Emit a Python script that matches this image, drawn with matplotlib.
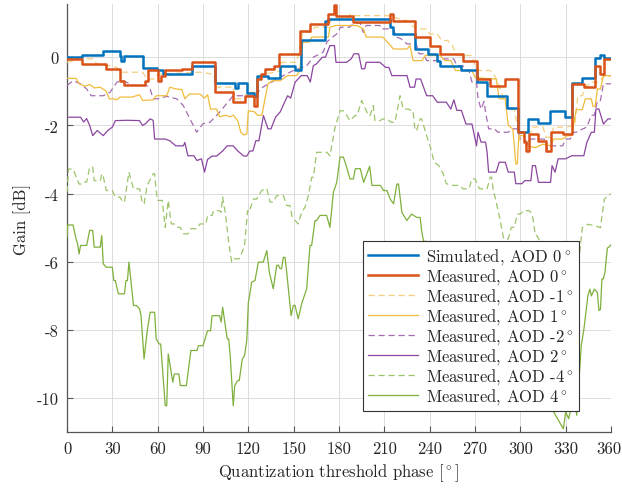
import matplotlib
matplotlib.use("Agg")
import matplotlib.pyplot as plt
import matplotlib.transforms as mtransforms

plt.rcParams['font.family'] = 'cmr10'
plt.rcParams['mathtext.fontset'] = 'cm'
plt.rcParams['axes.formatter.use_mathtext'] = True
plt.rcParams['font.size'] = 12

# ---------------- data ----------------
sim0_x = [0, 10, 24, 35, 36, 38, 50.5, 59.3, 63.7, 82.5, 98, 111, 113, 119, 124, 126, 133, 141, 151, 155,
          171, 173, 214, 216, 230, 239, 245, 247, 261, 271, 278, 291, 298.5, 305.3, 312, 319.7, 329.6, 334,
          340.6, 349.4, 352.7, 355.5, 360]
sim0_y = [0.0, 0.05, 0.17, 0.03, -0.12, 0.03, -0.31, -0.37, -0.49, -0.27, -0.76, -0.9, -0.76, -1.06, -1.15,
          -0.56, -0.62, -0.25, -0.39, 0.49, 1.07, 1.12, 0.88, 0.68, 0.24, 0.1, -0.1, -0.25, -0.39, -0.73,
          -1.13, -1.5, -2.2, -1.81, -1.93, -1.57, -1.76, -0.75, -0.61, -0.03, 0.07, -0.01, -0.01]

meas0_x = [0, 10, 26, 35, 38, 51.6, 53.5, 60, 62, 65, 76, 82.5, 98, 110, 117.5, 123.5, 125.5, 128.5, 131,
           137, 140.5, 154, 161, 173, 176.5, 178, 189.5, 214, 216, 230, 240, 247, 262, 271, 280, 290,
           298.5, 302.5, 303.5, 306, 312, 317, 320, 328, 334.5, 342, 349.4, 352.5, 355.5, 357.5, 360]
meas0_y = [-0.05, -0.2, -0.34, -0.69, -0.83, -0.69, -0.39, -0.69, -0.56, -0.39, -0.34, -0.15, -1.03, -1.32,
           -1.13, -1.42, -0.64, -0.5, -0.34, -0.25, 0.1, 0.78, 0.98, 1.27, 1.53, 1.22, 1.03, 1.27, 1.07,
           0.59, 0.34, 0.1, -0.1, -0.64, -0.85, -0.64, -2.2, -2.49, -2.74, -2.25, -2.45, -2.74, -2.2,
           -2.25, -0.78, -0.88, -0.25, -0.49, -0.05, -0.05, -0.05]

m_neg1_x = [0, 5, 10, 17, 20, 28, 33, 36, 50, 53, 58, 60, 65, 88, 97, 99, 110, 111, 118, 119, 125, 127,
            131, 141, 142, 152, 154, 156, 162, 164, 173, 175, 185, 188, 190, 212, 225, 231, 238, 240, 245,
            248, 252, 255, 258, 268, 270, 273, 280, 283, 286, 289, 292, 296, 298, 300, 305, 308, 315, 317,
            320, 322, 330, 336, 338, 341, 343, 347, 352, 355, 360]
m_neg1_y = [-0.15, -0.1, -0.05, -0.05, -0.2, -0.25, -0.3, -0.44, -0.44, -0.64, -0.64, -0.5, -0.49, -0.44,
            -0.5, -0.88, -0.88, -1.22, -1.22, -1.03, -1.03, -0.64, -0.5, -0.4, -0.15, -0.15, 0.24, 0.73,
            0.73, 0.88, 0.88, 1.12, 1.12, 1.27, 1.22, 1.22, 1.07, 0.83, 0.83, 0.68, 0.68, 0.49, 0.49, 0.34,
            0.05, 0.05, -0.25, -0.39, -0.39, -0.54, -0.83, -1.22, -1.54, -1.54, -2.0, -2.49, -2.49, -2.05,
            -2.05, -2.35, -2.35, -2.05, -2.05, -2.0, -1.13, -1.13, -0.88, -0.73, -0.73, -0.56, -0.56]

m_pos1_x = [0, 6, 8, 12, 15, 18, 22, 26, 28, 31, 33, 35, 43, 48, 50, 57, 59, 66, 68, 72, 76, 78, 81, 88,
            91, 93, 95, 99, 101, 105, 108, 110, 113, 115, 117, 119, 120, 124, 126, 129, 131, 133, 136, 141,
            146, 152, 154, 156, 160, 162, 173, 174, 178, 192, 196, 198, 209, 213, 216, 225, 227, 229, 235,
            237, 247, 250, 254, 257, 268, 270, 276, 284, 286, 290, 292, 295, 296, 297, 298, 299, 302, 304,
            310, 315, 320, 322, 328, 331, 334, 337, 341, 343, 347, 348, 349.5, 351, 353, 355, 360]
m_pos1_y = [-0.62, -0.62, -0.78, -0.85, -0.8, -0.9, -0.88, -1.0, -1.22, -1.22, -1.25, -1.17, -1.17, -1.1,
            -1.27, -1.25, -1.13, -1.13, -0.88, -0.93, -0.95, -1.22, -1.08, -1.08, -1.2, -1.1, -1.52, -1.52,
            -1.75, -1.7, -1.75, -1.7, -1.86, -2.2, -2.28, -2.25, -1.57, -1.6, -1.7, -1.7, -1.22, -0.78,
            -0.69, -0.69, -0.54, -0.54, -0.39, 0.44, 0.44, 0.59, 0.59, 0.88, 0.93, 0.93, 0.83, 0.59, 0.59,
            0.4, 0.24, 0.24, 0.34, -0.1, -0.1, 0.05, 0.05, -0.1, -0.1, -0.39, -0.39, -0.59, -0.62, -0.64,
            -1.22, -1.22, -2.0, -2.1, -2.59, -3.13, -3.13, -2.3, -2.3, -2.6, -2.65, -2.55, -2.6, -2.4, -2.4,
            -2.3, -2.3, -1.54, -1.54, -1.22, -1.22, -1.44, -1.44, -0.93, -0.93, -0.54, -0.54]

m_neg2_x = [0, 4, 9, 13, 16, 24, 28.5, 33, 37, 44, 52.7, 55, 57, 60, 66, 72.6, 77, 81.4, 85.8, 90, 94.6,
            101, 110, 119, 125.5, 127.7, 138.8, 149.8, 158.6, 163, 169.6, 172, 176, 178.5, 181, 187, 190,
            194, 196, 198, 207, 208, 216, 218, 221, 225, 231, 233, 236, 238, 245, 247, 256, 258, 262, 264,
            266, 268, 271, 272, 274, 276, 277, 279, 283, 285, 292, 295, 298, 300, 303, 305, 307, 316, 318,
            320, 328, 330, 333, 335, 337, 339, 344, 347, 349, 351, 353, 355, 360]
m_neg2_y = [-0.83, -0.69, -0.78, -0.93, -1.13, -1.13, -1.03, -0.73, -0.69, -0.83, -0.83, -0.93, -1.22,
            -1.22, -1.15, -1.22, -1.42, -1.81, -2.2, -1.95, -1.91, -1.61, -1.13, -1.13, -1.13, -0.93,
            -0.64, -0.39, -0.25, 0.0, 0.15, 0.45, 0.6, 0.68, 0.88, 0.88, 1.0, 1.0, 0.73, 0.93, 0.93, 0.83,
            0.83, 0.59, 0.54, 0.39, 0.39, 0.1, 0.1, -0.1, -0.1, -0.05, -0.05, -0.25, -0.25, -0.39, -0.39,
            -0.73, -0.73, -1.22, -1.52, -1.3, -1.61, -2.1, -2.1, -2.2, -2.2, -2.1, -2.1, -2.4, -2.4, -2.55,
            -2.4, -2.4, -2.7, -2.6, -2.6, -2.4, -2.4, -2.2, -2.2, -2.15, -2.05, -1.7, -1.7, -1.27, -1.27,
            -0.78, -0.78]

m_pos2_x = [0, 9, 11, 13, 15, 17, 20, 24, 27, 30, 32, 40, 48, 50, 52, 55, 57, 58, 65, 68, 72, 77, 78, 80,
            84, 86, 89, 91, 93, 96, 99, 103, 106, 110, 113, 117, 119, 121, 123, 125, 127, 130, 133, 135,
            138, 141, 146, 148, 151, 155, 159, 161, 163, 165, 169, 171, 174, 177, 178, 185, 188, 190, 193,
            195, 197, 198, 207, 211, 213, 215, 225, 227, 230, 231, 234, 238, 242, 245, 251, 254, 256, 258,
            261, 264, 268, 271, 272, 274, 277, 278, 279, 284, 286, 290, 292, 296, 297, 301, 303, 307, 308,
            310, 312, 320, 321, 323, 325, 330, 334, 342, 344, 347, 349, 350, 352, 355, 358, 360]
m_pos2_y = [-1.76, -1.76, -1.9, -1.8, -2.0, -2.3, -2.15, -2.3, -2.15, -2.05, -1.86, -1.85, -1.86, -2.0,
            -1.95, -1.81, -1.85, -2.4, -2.4, -2.45, -2.6, -2.6, -2.5, -2.89, -2.89, -3.03, -2.98, -3.37,
            -3.0, -2.9, -2.9, -2.75, -2.6, -2.6, -2.75, -2.9, -2.9, -2.75, -2.75, -2.45, -2.45, -1.71,
            -2.1, -2.1, -1.76, -1.61, -1.13, -1.2, -0.73, -0.54, -0.54, -0.73, -0.25, -0.2, 0.0, 0.0, 0.34,
            0.34, -0.15, -0.15, -0.05, 0.1, 0.1, -0.34, -0.34, -0.15, -0.15, -0.3, -0.3, -0.54, -0.54,
            -0.88, -0.88, -0.64, -0.64, -1.13, -1.13, -1.32, -1.32, -1.52, -1.25, -1.56, -1.56, -1.96,
            -1.96, -2.6, -2.2, -2.49, -2.49, -2.79, -3.37, -3.37, -3.08, -3.08, -3.37, -3.37, -3.71, -3.71,
            -3.62, -3.62, -3.18, -3.18, -3.67, -3.67, -3.18, -3.37, -2.98, -2.98, -2.89, -2.89, -2.5, -2.2,
            -2.2, -1.52, -1.52, -1.96, -1.81, -1.81]

m_neg4_x = [0, 1, 4, 8, 10, 11, 13, 15, 17, 18, 22, 23, 24, 26, 30, 32, 35, 37, 38, 41, 44, 48, 50, 51,
            53, 57, 58, 59, 60, 63, 65, 67, 69, 71, 73, 75, 77, 80, 82, 86, 88, 92, 93, 96, 97, 101, 102,
            103, 105, 107, 109, 111, 114, 115, 117.5, 119.5, 120.5, 123.3, 125.5, 128.8, 132.2, 134.4,
            136.5, 138.8, 143.2, 145.4, 147.6, 149, 153, 155.3, 157.5, 159.7, 162, 163, 165.2, 172, 174,
            177.4, 180.7, 183, 187.3, 190.6, 192, 195, 199.4, 200.5, 202.7, 203.8, 207, 209.2, 211.4, 214.7,
            217, 220.4, 222.5, 225.9, 228, 229, 230.3, 231.4, 233.6, 234.7, 239, 240.2, 243, 246, 249, 251,
            255.7, 260, 262, 266, 268, 270, 273, 278, 280, 281, 282, 284, 286, 289, 292, 294, 296, 298, 300,
            302, 306, 308, 310, 311, 315, 320, 326, 332, 336, 338, 341, 345, 350, 353, 355.6, 358, 360]
m_neg4_y = [-3.96, -3.28, -3.28, -3.72, -3.72, -3.66, -3.66, -3.23, -3.23, -3.62, -3.62, -3.42, -3.5,
            -3.91, -3.91, -4.1, -4.1, -4.25, -4.25, -3.37, -3.86, -3.86, -4.3, -4.3, -3.76, -3.42, -3.42,
            -3.91, -4.2, -4.2, -4.99, -4.2, -4.89, -4.89, -4.99, -4.99, -5.18, -5.18, -5.03, -5.03, -4.89,
            -4.89, -4.64, -4.64, -4.5, -4.5, -4.55, -4.1, -4.64, -5.43, -6.01, -5.91, -5.91, -5.82, -5.52,
            -4.5, -4.55, -4.16, -4.16, -3.91, -3.85, -4.25, -4.25, -4.06, -4.06, -4.35, -4.35, -4.69, -4.89,
            -4.55, -4.4, -4.06, -3.52, -3.52, -2.79, -2.79, -2.89, -2.05, -1.57, -1.57, -1.86, -1.71, -1.71,
            -1.27, -1.71, -1.71, -1.42, -1.86, -1.86, -1.81, -1.81, -1.91, -1.91, -1.13, -1.52, -1.52,
            -1.57, -1.57, -2.15, -2.15, -1.81, -1.81, -2.45, -2.59, -3.08, -3.18, -3.42, -3.71, -3.76,
            -3.76, -3.86, -3.86, -3.57, -3.57, -3.86, -3.86, -3.52, -3.52, -3.86, -4.25, -4.64, -5.33,
            -5.33, -4.99, -4.99, -4.6, -4.6, -4.5, -4.5, -4.64, -5.23, -5.23, -5.6, -6.0, -6.4, -6.7, -6.9,
            -6.3, -5.0, -4.9, -4.95, -5.0, -4.16, -4.06, -4.0]

m_pos4_x = [0, 0.5, 4, 6, 7, 8, 9, 13, 15, 17, 18, 22, 23, 24, 26, 30, 31, 32, 34, 38, 39, 40, 41, 44, 46,
            48, 49, 51, 53, 55, 58, 59, 61, 62, 65, 66, 67, 69, 70, 71, 74, 75, 79, 80, 82, 86, 87, 90, 93,
            95, 96, 101, 102, 103, 106, 107, 108, 110, 111, 113, 114, 116, 117.5, 119, 120, 121, 122.2,
            124.4, 126.6, 129.9, 132.2, 133.9, 136.5, 138.8, 139.9, 141, 142, 143.2, 144.3, 145.4, 148.3,
            149.8, 150.9, 153, 155.3, 158.6, 160.8, 161.9, 164.1, 165.2, 167.4, 171.8, 174, 176.3, 178.5,
            180.7, 182.9, 185.1, 187.3, 189.5, 190.8, 194.1, 196.3, 200.3, 201.8, 205.1, 207.3, 209.5,
            211.7, 213.9, 216.1, 218.3, 219.4, 221.6, 224.9, 228, 231.5, 233.7, 234.8, 236, 238, 245, 255,
            265, 275, 285, 295, 305, 315, 322, 328.5, 330, 332, 334, 336, 337.3, 340.3, 342, 344.7, 346,
            347, 349, 351, 352, 353, 354, 355, 356, 357.6, 359, 360]
m_pos4_y = [-5.28, -4.92, -4.92, -5.33, -5.47, -5.77, -5.52, -5.52, -5.08, -5.08, -5.57, -5.57, -5.23,
            -6.06, -6.16, -6.16, -6.55, -6.55, -6.94, -6.94, -6.55, -6.55, -6.01, -7.28, -7.28, -7.38,
            -7.58, -8.85, -8.06, -7.48, -7.48, -8.26, -8.41, -8.41, -10.22, -10.22, -8.7, -9.24, -9.53,
            -9.29, -9.29, -9.63, -9.63, -9.29, -8.6, -8.6, -8.46, -8.46, -8.02, -8.02, -7.58, -7.58, -7.77,
            -7.33, -8.26, -8.26, -8.75, -10.22, -9.63, -9.48, -9.48, -8.85, -8.75, -8.3, -7.2, -6.94, -6.6,
            -6.55, -6.01, -6.01, -5.67, -6.31, -6.79, -6.1, -6.1, -6.2, -6.2, -5.87, -5.87, -6.31, -7.58,
            -7.28, -7.28, -7.67, -7.23, -6.79, -5.52, -5.52, -4.79, -4.79, -4.64, -4.64, -4.99, -3.96,
            -3.67, -2.93, -2.93, -3.23, -3.57, -3.57, -3.27, -3.27, -3.67, -3.2, -3.76, -3.76, -3.76,
            -3.91, -3.91, -4.16, -4.3, -3.72, -3.72, -4.55, -4.79, -4.6, -4.7, -4.7, -5.13, -5.4, -5.4,
            -5.8, -6.5, -7.2, -7.8, -8.3, -8.8, -9.5, -10.0, -10.4, -10.9, -10.4, -10.6, -10.2, -10.0,
            -10.5, -8.46, -8.0, -7.0, -6.8, -7.0, -6.8, -6.9, -7.43, -7.4, -6.5, -6.5, -6.3, -5.6, -5.55,
            -5.5]

labels = ['Simulated, AOD $0^\\circ$', 'Measured, AOD $0^\\circ$', 'Measured, AOD -$1^\\circ$',
          'Measured, AOD $1^\\circ$', 'Measured, AOD -$2^\\circ$', 'Measured, AOD $2^\\circ$',
          'Measured, AOD -$4^\\circ$', 'Measured, AOD $4^\\circ$']
xticks = list(range(0, 361, 30))
yticks = [0, -2, -4, -6, -8, -10]

# ---------------- plot ----------------
fig = plt.figure(figsize=(6.22, 4.89), dpi=100)
ax = fig.add_axes([67 / 622, 1 - 433.3 / 489, 544 / 622, 428.3 / 489])

thin = 0.9
ax.plot(sim0_x, sim0_y, color='#0072BD', lw=1.8, drawstyle='steps-post', label=labels[0], zorder=9)
ax.plot(meas0_x, meas0_y, color='#D95319', lw=1.8, drawstyle='steps-post', label=labels[1], zorder=10)
ax.plot(m_neg1_x, m_neg1_y, color='#F4CF7E', lw=thin, dashes=(5, 3), label=labels[2], zorder=5)
ax.plot(m_pos1_x, m_pos1_y, color='#F0BC3C', lw=thin, label=labels[3], zorder=5)
ax.plot(m_neg2_x, m_neg2_y, color='#A56DB1', lw=thin, dashes=(5, 3), label=labels[4], zorder=4)
ax.plot(m_pos2_x, m_pos2_y, color='#8B46A0', lw=thin, label=labels[5], zorder=4)
ax.plot(m_neg4_x, m_neg4_y, color='#9DC46A', lw=thin, dashes=(5, 3), label=labels[6], zorder=3)
ax.plot(m_pos4_x, m_pos4_y, color='#7FB03C', lw=thin, label=labels[7], zorder=3)

ax.set_xlim(0, 360)
ax.set_ylim(-11, 1.56)
ax.set_xticks(xticks)
ax.set_xticklabels([str(v) for v in xticks])
ax.set_yticks(yticks)
ax.set_yticklabels([str(v) for v in yticks])
ax.grid(True, color='#DCDCDC', lw=0.7)
ax.set_axisbelow(True)
for s in ['top', 'right']:
    ax.spines[s].set_visible(False)
for s in ['left', 'bottom']:
    ax.spines[s].set_color('#555555')
    ax.spines[s].set_linewidth(0.9)
ax.tick_params(direction='in', length=4, width=0.8, color='#555555', labelcolor='#262626', pad=6)
# nudge the last x tick label slightly inward so it stays within the canvas
last_lab = ax.get_xticklabels()[-1]
last_lab.set_transform(last_lab.get_transform() +
                       mtransforms.ScaledTranslation(-2.5 / 100, 0, fig.dpi_scale_trans))
ax.set_xlabel('Quantization threshold phase [$^\\circ$]', color='#262626')
ax.set_ylabel('Gain [dB]', color='#262626')

leg = ax.legend(loc='lower right', bbox_to_anchor=(0.941, 0.05), borderaxespad=0, fancybox=False,
                framealpha=1, edgecolor='#333333', handlelength=3.0, handletextpad=0.5,
                labelspacing=0.0, borderpad=0.3)
leg.get_frame().set_linewidth(0.8)
for t in leg.get_texts():
    t.set_color('#262626')

fig.savefig('out.png', dpi=100)
